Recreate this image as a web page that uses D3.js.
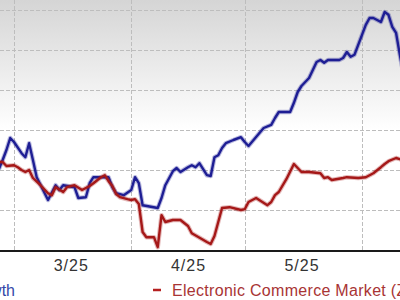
<!DOCTYPE html>
<html>
<head>
<meta charset="utf-8">
<script src="https://cdn.jsdelivr.net/npm/d3@7"></script>
<style>
body{margin:0;background:#fff}
svg{display:block}
</style>
</head>
<body>
<div id="chart"></div>
<script>
// price series (% change)
var blueDates = ["2025-02-25","2025-02-26","2025-02-27","2025-02-28","2025-03-01","2025-03-03","2025-03-04","2025-03-05","2025-03-06","2025-03-07",
    "2025-03-10","2025-03-12","2025-03-13","2025-03-14","2025-03-17","2025-03-18","2025-03-20","2025-03-21","2025-03-22","2025-03-26",
    "2025-03-27","2025-03-28","2025-03-30","2025-04-01","2025-04-02","2025-04-03","2025-04-04","2025-04-08","2025-04-09","2025-04-10",
    "2025-04-12","2025-04-13","2025-04-14","2025-04-16","2025-04-17","2025-04-18","2025-04-19","2025-04-21","2025-04-22","2025-04-23",
    "2025-04-24","2025-04-25","2025-04-26","2025-04-28","2025-04-30","2025-05-01","2025-05-02","2025-05-06","2025-05-08","2025-05-09",
    "2025-05-10","2025-05-13","2025-05-14","2025-05-15","2025-05-16","2025-05-18","2025-05-20","2025-05-21","2025-05-22","2025-05-23",
    "2025-05-26","2025-05-27","2025-05-28","2025-05-29","2025-05-30","2025-06-02","2025-06-03","2025-06-04","2025-06-05","2025-06-06",
    "2025-06-07","2025-06-08","2025-06-09","2025-06-10","2025-06-11","2025-06-12"]
var blueValues = [-9.8,-7.5,-5,-2,-3,-5.8,-6.8,-3.3,-7.5,-11.8,
    -17.5,-13.8,-15,-13.8,-14.3,-17,-16.8,-13.3,-11.8,-11.8,
    -14.3,-15.8,-16.3,-15,-11.8,-13.3,-18.8,-19.5,-17,-13.8,
    -10.3,-9.5,-10.5,-9.3,-8.8,-9.3,-8.3,-11.3,-11.5,-6.8,
    -6.3,-4.5,-3.3,-2.5,-1.8,-3,-4,0.5,1.3,3,
    4.5,4.5,6.8,9.5,11,13,17,17.5,16.8,17.5,
    17.5,18,19.5,18.3,18.8,26.3,28,28,27.5,27,
    29.5,28.8,25.8,24.3,18.8,13.8]

var redDates = ["2025-02-25","2025-02-26","2025-02-27","2025-03-01","2025-03-02","2025-03-03","2025-03-04","2025-03-05","2025-03-06","2025-03-08",
    "2025-03-10","2025-03-11","2025-03-12","2025-03-14","2025-03-15","2025-03-17","2025-03-19","2025-03-21","2025-03-22","2025-03-24",
    "2025-03-25","2025-03-26","2025-03-27","2025-03-28","2025-03-29","2025-03-31","2025-04-01","2025-04-02","2025-04-03","2025-04-04",
    "2025-04-05","2025-04-07","2025-04-08","2025-04-09","2025-04-10","2025-04-12","2025-04-14","2025-04-16","2025-04-17","2025-04-21",
    "2025-04-22","2025-04-23","2025-04-24","2025-04-25","2025-04-27","2025-04-30","2025-05-01","2025-05-02","2025-05-04","2025-05-07",
    "2025-05-08","2025-05-09","2025-05-10","2025-05-12","2025-05-14","2025-05-15","2025-05-16","2025-05-18","2025-05-21","2025-05-22",
    "2025-05-23","2025-05-24","2025-05-27","2025-05-28","2025-05-31","2025-06-02","2025-06-04","2025-06-06","2025-06-07","2025-06-08",
    "2025-06-10","2025-06-11","2025-06-12"]
var redValues = [-8,-8,-9,-8.8,-9.3,-10,-10.5,-10,-12,-13.8,
    -15.8,-16.3,-14.3,-15.5,-14.3,-13.8,-15,-14,-13.3,-11.8,
    -11.3,-12.8,-14,-16,-16.8,-17.3,-17.5,-17.3,-18.5,-25.5,
    -26.8,-26.8,-29.3,-21.3,-23,-22.5,-22.5,-24,-25.8,-28,
    -28.5,-26.5,-23,-19.5,-19.3,-20,-19.8,-18,-17,-18.8,
    -18,-16.3,-15.5,-12.3,-8.5,-9.5,-10.5,-10.5,-10.8,-12,
    -11.8,-12.5,-12,-11.8,-12,-11.8,-10.8,-9.3,-8.5,-7.8,
    -7,-7.3,-7.5]

var monthStarts = ["2025-03-01","2025-04-01","2025-05-01","2025-06-01"]
var tickDates = ["2025-03-16","2025-04-16","2025-05-16","2025-06-16"]
var tickLabels = ["3/25","4/25","5/25","6/25"]
var yTicks = [-30,-20,-10,0,10,20,30]
var legendNames = ["Growth","Electronic Commerce Market (Zacks)"]

var parse = d3.utcParse("%Y-%m-%d")
var width = 400
var height = 300
var axisY = 250

drawChart()

function drawChart(){
    var svg = d3.select("#chart").append("svg").attr("width",width).attr("height",height)

    // month starts sit on fixed pixels, widen domain to the full frame
    var x = d3.scaleUtc().domain([parse(monthStarts[0]),parse(monthStarts[3])]).range([14,362])
    x.domain([x.invert(0),x.invert(width)]).range([0,width])
    var y = d3.scaleLinear().domain([-30,30]).range([axisY,10])

    var grad = svg.append("defs").append("linearGradient")
        .attr("id","bg").attr("x1",0).attr("y1",0).attr("x2",0).attr("y2",1)
    grad.append("stop").attr("offset","0%").attr("stop-color","#d5d5d5")
    grad.append("stop").attr("offset","52%").attr("stop-color","#ffffff")
    svg.append("rect").attr("x",0).attr("y",0).attr("width",width).attr("height",axisY)
        .attr("fill","url(#bg)")

    svg.selectAll(".hgrid")
        .data(yTicks.slice(1))
        .enter()
        .append("line")
        .attr("class","hgrid")
        .attr("x1",0).attr("x2",width)
        .attr("y1",function(d){return y(d)+0.5})
        .attr("y2",function(d){return y(d)+0.5})
        .attr("stroke","#bdbdbd")
        .attr("stroke-dasharray","4,2")

    svg.selectAll(".vgrid")
        .data(monthStarts)
        .enter()
        .append("line")
        .attr("class","vgrid")
        .attr("x1",function(d){return Math.round(x(parse(d)))+0.5})
        .attr("x2",function(d){return Math.round(x(parse(d)))+0.5})
        .attr("y1",0).attr("y2",axisY)
        .attr("stroke","#bdbdbd")
        .attr("stroke-dasharray","4,2")

    var line = d3.line()
        .x(function(d){return x(d[0])})
        .y(function(d){return y(d[1])})
        .curve(d3.curveLinear)

    var blue = blueDates.map(function(d,i){return [parse(d),blueValues[i]]})
    var red = redDates.map(function(d,i){return [parse(d),redValues[i]]})

    drawSeries(svg,line,blue,"#1e1e94")
    drawSeries(svg,line,red,"#a51818")

    var axis = svg.append("g")
        .attr("transform","translate(0,"+axisY+")")
        .call(d3.axisBottom(x)
            .tickValues(tickDates.map(parse))
            .tickFormat(function(d,i){return tickLabels[i]})
            .tickSize(0)
            .tickPadding(10))
    axis.select(".domain").remove()
    axis.selectAll("text")
        .attr("font-family","'Liberation Sans', Arial, sans-serif")
        .attr("font-size",16)
        .attr("letter-spacing",1)
        .attr("fill","#333")
    svg.append("line")
        .attr("x1",0).attr("x2",width)
        .attr("y1",axisY+1).attr("y2",axisY+1)
        .attr("stroke","#1a1a1a")
        .attr("stroke-width",2)

    // legend, cut off by the frame like the source
    svg.append("text")
        .text(legendNames[0])
        .attr("x",15).attr("y",296)
        .attr("text-anchor","end")
        .attr("font-family","'Liberation Sans', Arial, sans-serif")
        .attr("font-size",16)
        .attr("fill","#3447a8")
    svg.append("line")
        .attr("x1",153).attr("x2",161)
        .attr("y1",290).attr("y2",290)
        .attr("stroke","#b52020")
        .attr("stroke-width",2.5)
    svg.append("text")
        .text(legendNames[1])
        .attr("x",172).attr("y",296)
        .attr("font-family","'Liberation Sans', Arial, sans-serif")
        .attr("font-size",16)
        .attr("letter-spacing",0.3)
        .attr("fill","#a83434")
}

function drawSeries(svg,line,data,color){
    // soft halo then the line itself
    svg.append("path")
        .datum(data)
        .attr("d",line)
        .attr("fill","none")
        .attr("stroke",color)
        .attr("stroke-opacity",0.3)
        .attr("stroke-width",4.5)
        .attr("stroke-linejoin","round")
    svg.append("path")
        .datum(data)
        .attr("d",line)
        .attr("fill","none")
        .attr("stroke",color)
        .attr("stroke-width",2.4)
        .attr("stroke-linejoin","round")
}
</script>
</body>
</html>
